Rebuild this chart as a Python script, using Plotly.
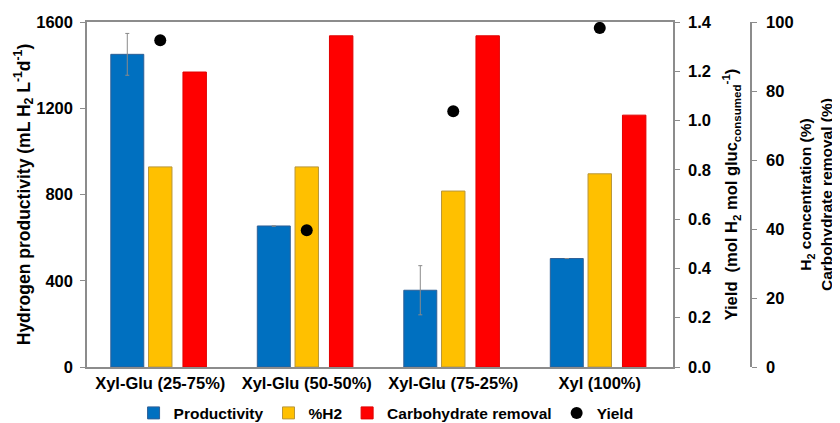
import plotly.graph_objects as go

categories = ["Xyl-Glu (25-75%)", "Xyl-Glu (50-50%)", "Xyl-Glu (75-25%)", "Xyl (100%)"]
productivity = [1450, 654, 356, 503]
productivity_err = [97, None, 114, None]
h2_percent = [58.0, 58.0, 51.0, 56.0]
carb_removal = [85.5, 96.0, 96.0, 73.0]
yield_vals = [1.326, 0.555, 1.038, 1.376]

FONT = "Liberation Sans, Arial, sans-serif"
AX = "#8c8c8c"

fig = go.Figure()
fig.add_trace(go.Bar(
    x=categories, y=productivity, name="Productivity",
    marker=dict(color="#0070C0", line=dict(color="#2e5f96", width=1)),
    width=0.225, offset=-0.3375,
    error_y=dict(type="data", array=productivity_err, visible=True,
                 color="#8a8a8a", thickness=1, width=2),
))
fig.add_trace(go.Bar(
    x=categories, y=h2_percent, name="%H2", yaxis="y2",
    marker=dict(color="#FFC000", line=dict(color="#b8963a", width=1)),
    width=0.16, offset=-0.08,
))
fig.add_trace(go.Bar(
    x=categories, y=carb_removal, name="Carbohydrate removal", yaxis="y2",
    marker=dict(color="#FF0000", line=dict(color="#e00000", width=1)),
    width=0.16, offset=0.155,
))
fig.add_trace(go.Scatter(
    x=categories, y=yield_vals, name="Yield", yaxis="y3", mode="markers",
    marker=dict(color="black", size=12),
))

dom_end = 586 / 733
pos_pct = 664 / 733

fig.update_layout(
    width=832, height=415,
    margin=dict(l=79, r=20, t=14, b=56, autoexpand=False),
    paper_bgcolor="white", plot_bgcolor="white",
    font=dict(family=FONT, size=16, color="black", weight="bold"),
    barmode="overlay",
    showlegend=True,
    legend=dict(orientation="h", x=0.408, xanchor="center", y=-0.085, yanchor="top",
                font=dict(size=15.5, family=FONT, weight="bold"),
                traceorder="normal", itemwidth=30),
    xaxis=dict(domain=[0, dom_end], type="category", range=[-0.5, 3.5], automargin=False,
               showline=True, linecolor=AX, linewidth=1.5, mirror=True,
               ticks="", tickfont=dict(size=16.5, family=FONT, weight="bold"),
               showgrid=False),
    yaxis=dict(range=[0, 1600], tickvals=[0, 400, 800, 1200, 1600], automargin=False,
               showline=True, linecolor=AX, linewidth=1.5, ticks="outside",
               ticklen=5, tickcolor=AX, showgrid=False, zeroline=False,
               ticklabelstandoff=4,
               tickfont=dict(size=16.5, family=FONT, weight="bold"),
               title=dict(text="Hydrogen productivity (mL H<sub>2</sub> L<sup>-1</sup>d<sup>-1</sup>)",
                          font=dict(size=17.5, family=FONT, weight="bold"), standoff=1)),
    yaxis2=dict(range=[0, 100], tickvals=[0, 20, 40, 60, 80, 100],
                overlaying="y", side="right", anchor="free", position=pos_pct, automargin=False,
                showline=True, linecolor=AX, linewidth=1.5, ticks="outside",
                ticklen=5, tickcolor=AX, showgrid=False, zeroline=False,
                ticklabelstandoff=6,
                tickfont=dict(size=16.5, family=FONT, weight="bold"),
                title=dict(text="H<sub>2</sub> concentration (%)<br>Carbohydrate removal (%)",
                           font=dict(size=15.5, family=FONT, weight="bold"), standoff=7)),
    yaxis3=dict(range=[0, 1.4], tickvals=[0, 0.2, 0.4, 0.6, 0.8, 1.0, 1.2, 1.4],
                tickformat=".1f", overlaying="y", side="right", anchor="x", automargin=False,
                showline=True, linecolor=AX, linewidth=1.5, ticks="outside",
                ticklen=5, tickcolor=AX, showgrid=False, zeroline=False,
                ticklabelstandoff=5,
                tickfont=dict(size=16.5, family=FONT, weight="bold"),
                title=dict(text="Yield  (mol H<sub>2</sub> mol gluc<sub>consumed</sub><sup>-1</sup>)",
                           font=dict(size=16.5, family=FONT, weight="bold"), standoff=15)),
)

fig.write_html("out.html")
